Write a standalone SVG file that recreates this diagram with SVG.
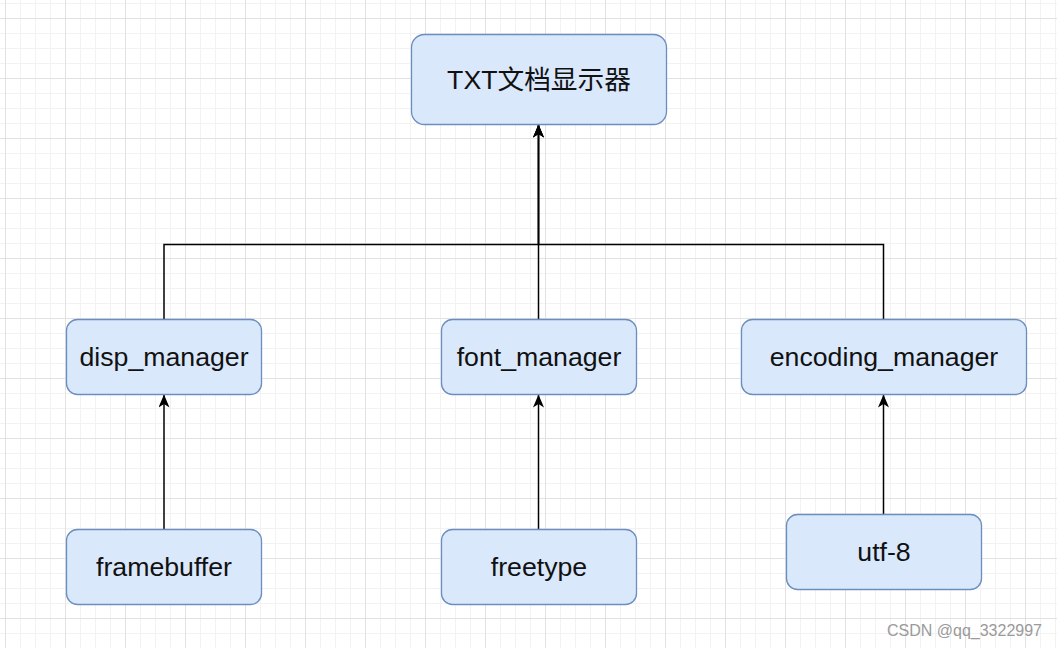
<svg xmlns="http://www.w3.org/2000/svg" width="1057" height="648" viewBox="0 0 1057 648">
  <defs>
    <pattern id="grid" patternUnits="userSpaceOnUse" x="5" y="18" width="60" height="60">
      <path d="M15.5 0V60M30.5 0V60M45.5 0V60M0 15.5H60M0 30.5H60M0 45.5H60" stroke="#f2f2f2" stroke-width="1" fill="none"/>
      <path d="M0.5 0V60M0 0.5H60" stroke="#e2e2e2" stroke-width="1" fill="none"/>
    </pattern>
    <marker id="arrow" markerUnits="userSpaceOnUse" viewBox="0 0 13 11" markerWidth="13" markerHeight="11" refX="12.5" refY="5.5" orient="auto">
      <path d="M13 5.5L0 0L3.5 5.5L0 11Z" fill="#000"/>
    </marker>
    <style>
      .node rect { fill: #dae8fc; stroke: #6c8ebf; stroke-width: 1.3; }
      .node text { font-family: "Liberation Sans", Arial, "Noto Sans CJK SC", sans-serif; font-size: 26.7px; fill: #111; text-anchor: middle; }
      .edge { fill: none; stroke: #000; stroke-width: 1.5; }
    </style>
  </defs>
  <rect x="0" y="0" width="1057" height="648" fill="#ffffff"/>
  <rect x="0" y="0" width="1057" height="648" fill="url(#grid)"/>

  <g id="connectors">
    <path class="edge" d="M164 319.5V244.5H538.5V125" marker-end="url(#arrow)"/>
    <path class="edge" d="M538.5 319.5V125" marker-end="url(#arrow)"/>
    <path class="edge" d="M883.5 319.5V244.5H538.5V125" marker-end="url(#arrow)"/>
    <path class="edge" d="M164 529.5V395" marker-end="url(#arrow)"/>
    <path class="edge" d="M538.5 529.5V395" marker-end="url(#arrow)"/>
    <path class="edge" d="M883.5 514.5V395" marker-end="url(#arrow)"/>
  </g>

  <g id="node-txt" class="node">
    <rect x="411.5" y="34.5" width="255" height="90" rx="13" ry="13"/>
    <text x="539" y="88.5">TXT文档显示器</text>
  </g>
  <g id="node-disp" class="node">
    <rect x="66.5" y="319.5" width="195" height="75" rx="11" ry="11"/>
    <text x="164" y="366">disp_manager</text>
  </g>
  <g id="node-font" class="node">
    <rect x="441.5" y="319.5" width="195" height="75" rx="11" ry="11"/>
    <text x="539" y="366">font_manager</text>
  </g>
  <g id="node-encoding" class="node">
    <rect x="741.5" y="319.5" width="285" height="75" rx="11" ry="11"/>
    <text x="884" y="366">encoding_manager</text>
  </g>
  <g id="node-framebuffer" class="node">
    <rect x="66.5" y="529.5" width="195" height="75" rx="11" ry="11"/>
    <text x="164" y="576">framebuffer</text>
  </g>
  <g id="node-freetype" class="node">
    <rect x="441.5" y="529.5" width="195" height="75" rx="11" ry="11"/>
    <text x="539" y="576">freetype</text>
  </g>
  <g id="node-utf8" class="node">
    <rect x="786.5" y="514.5" width="195" height="75" rx="11" ry="11"/>
    <text x="884" y="561">utf-8</text>
  </g>

  <text x="887" y="636" font-family="Liberation Sans, Arial, sans-serif" font-size="16" fill="#9a9a9a">CSDN @qq_3322997</text>
</svg>
